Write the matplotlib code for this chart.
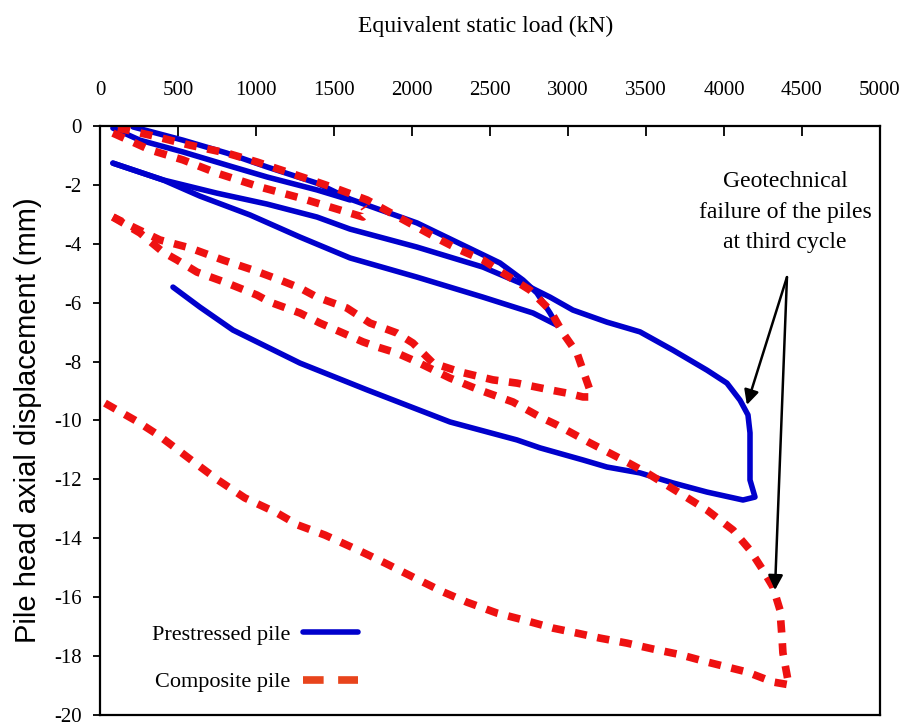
import matplotlib
matplotlib.use('Agg')
import matplotlib.pyplot as plt
from matplotlib.lines import Line2D

plt.rcParams['axes.unicode_minus'] = False
plt.rcParams['font.family'] = ['Liberation Serif', 'DejaVu Serif']

# --- prestressed pile (blue), kN / mm ---
pre_load_1 = [83, 256, 532, 853, 1071, 1391, 1603]
pre_disp_1 = [-0.07, -0.48, -0.88, -1.39, -1.73, -2.17, -2.51]

pre_load_2 = [212, 532, 814, 1071, 1391, 1603, 2032, 2353, 2564, 2712, 2801, 2885, 2929,
              2776, 2455, 2032, 1603, 1282, 962, 641, 404, 83]
pre_disp_2 = [-0.03, -0.48, -0.92, -1.39, -1.94, -2.48, -3.29, -4.11, -4.65, -5.23, -5.67, -6.35, -6.76,
              -6.35, -5.81, -5.13, -4.48, -3.77, -3.02, -2.38, -1.83, -1.26]

pre_load_3 = [83, 404, 750, 1071, 1391, 1603, 2032, 2455, 2756, 2885, 3032, 3250, 3462, 3673, 3891,
              4019, 4103, 4154, 4167, 4167, 4167, 4199, 4122, 3891, 3673, 3462, 3250, 3096, 2821,
              2673, 2244, 1712, 1282, 853, 641, 468]
pre_disp_3 = [-1.26, -1.83, -2.28, -2.65, -3.09, -3.50, -4.11, -4.79, -5.47, -5.81, -6.25, -6.66, -6.99,
              -7.61, -8.29, -8.73, -9.31, -9.81, -10.42, -11.10, -12.02, -12.60, -12.70, -12.43,
              -12.12, -11.78, -11.58, -11.34, -10.93, -10.66, -10.05, -8.96, -8.05, -6.93, -6.15, -5.47]

# --- composite pile (red) ---
comp_load_1 = [83, 321, 532, 750, 1026, 1282, 1494, 1686, 1712, 1690]
comp_disp_1 = [-0.24, -0.81, -1.15, -1.60, -2.07, -2.44, -2.78, -3.09, -2.92, -2.75]

comp_load_2 = [115, 321, 577, 814, 1006, 1199, 1391, 1539, 1712, 2179, 2308, 2455, 2583, 2756, 2885,
               2968, 3058, 3096, 3141, 3141, 3096, 2994, 2885, 2673, 2519, 2308, 2135, 2006, 1904,
               1731, 1583, 1391, 1282, 1154, 981, 788, 577, 385, 224, 83]
comp_disp_2 = [-0.07, -0.31, -0.65, -0.92, -1.22, -1.56, -1.90, -2.17, -2.51, -3.86, -4.21, -4.55, -4.99,
               -5.57, -6.25, -7.03, -7.71, -8.29, -8.97, -9.20, -9.20, -9.07, -8.96, -8.73, -8.62, -8.35,
               -8.05, -7.37, -7.03, -6.69, -6.18, -5.81, -5.50, -5.23, -4.89, -4.55, -4.14, -3.87,
               -3.46, -3.09]

comp_load_3 = [83, 256, 404, 494, 622, 814, 1006, 1090, 1282, 1410, 1558, 1686, 1776, 1904, 2032, 2244,
               2436, 2647, 2821, 2929, 3141, 3353, 3506, 3654, 3891, 4058, 4167, 4250, 4314, 4359,
               4372, 4378, 4410, 4423,
               4314, 4147, 4019, 3891, 3718, 3545, 3378, 3205, 3058, 2904, 2712, 2545, 2353, 2199,
               2019, 1827, 1654, 1442, 1269, 1135, 929, 756, 609, 500, 372, 244, 32]
comp_disp_3 = [-3.09, -3.63, -4.28, -4.55, -4.96, -5.33, -5.74, -5.98, -6.35, -6.69, -7.03, -7.33, -7.50,
               -7.71, -8.01, -8.56, -8.97, -9.37, -9.88, -10.15, -10.76, -11.34, -11.78, -12.26,
               -13.04, -13.72, -14.40, -15.08, -15.65, -16.43, -17.35, -17.89, -18.81, -18.98,
               -18.88, -18.54, -18.37, -18.20, -17.95, -17.76, -17.56, -17.39, -17.22, -17.05, -16.77,
               -16.54, -16.17, -15.82, -15.35, -14.84, -14.40, -13.89, -13.55, -13.14, -12.63, -12.02,
               -11.44, -11.00, -10.49, -10.05, -9.41]

x_ticks = list(range(0, 5001, 500))
y_ticks = list(range(-20, 1, 2))

blue = '#0000cc'
red = '#ee1111'

fig = plt.figure(figsize=(8.99, 7.26), dpi=100)
ax = fig.add_axes([0.1112, 0.0152, 0.8676, 0.8112])

for xs, ys in [(pre_load_1, pre_disp_1), (pre_load_2, pre_disp_2), (pre_load_3, pre_disp_3)]:
    ax.plot(xs, ys, color=blue, lw=4, solid_capstyle='round', solid_joinstyle='round')
for xs, ys in [(comp_load_1, comp_disp_1), (comp_load_2, comp_disp_2), (comp_load_3, comp_disp_3)]:
    ax.plot(xs, ys, color=red, lw=5.5, linestyle=(0, (1.6, 1.4)))

ax.set_xlim(0, 5000)
ax.set_ylim(-20, 0)
ax.set_xticks(x_ticks)
ax.set_yticks(y_ticks)
ax.xaxis.tick_top()
ax.tick_params(axis='x', direction='in', length=7, width=1.3, pad=18.5, labelsize=15)
ax.tick_params(axis='y', direction='out', length=5, width=1.3, pad=8, labelsize=15)
for s in ax.spines.values():
    s.set_linewidth(1.6)

ax.xaxis.set_label_position('top')
ax.set_xlabel('Equivalent static load (kN)', fontsize=17)
ax.xaxis.set_label_coords(0.495, 1.1596)
ax.set_ylabel('Pile head axial displacement (mm)', fontsize=21, family='Liberation Sans')
ax.yaxis.set_label_coords(-0.074, 0.5)

ax.text(4391, -2.92, 'Geotechnical\nfailure of the piles\nat third cycle',
        ha='center', va='center', fontsize=17, linespacing=1.6)
arrow = dict(arrowstyle='-|>', mutation_scale=22, lw=1.8, color='black', shrinkA=0, shrinkB=0)
ax.annotate('', xy=(4147, -9.47), xytext=(4404, -5.13), arrowprops=arrow)
ax.annotate('', xy=(4327, -15.76), xytext=(4404, -5.13), arrowprops=arrow)

handles = [Line2D([], [], color=blue, lw=4, solid_capstyle='round'),
           Line2D([], [], color='#e8441c', lw=5.5, linestyle=(0, (2.7, 1.9)))]
ax.legend(handles, ['Prestressed pile', 'Composite pile'], loc='upper left',
          bbox_to_anchor=(152 / 899, 1 - 624 / 726), bbox_transform=fig.transFigure,
          frameon=False, markerfirst=False, fontsize=16, handlelength=2.5,
          handletextpad=0.55, labelspacing=1.23, borderpad=0, borderaxespad=0)

fig.savefig('out.png', dpi=100)
